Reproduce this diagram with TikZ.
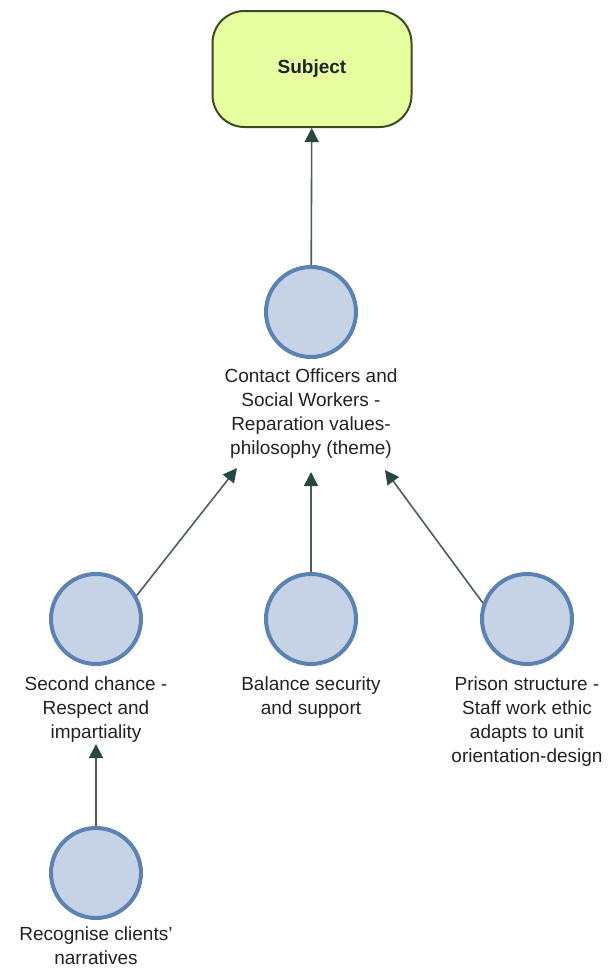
\documentclass[tikz,border=0pt]{standalone}
\usepackage{fontspec}
\setmainfont{Liberation Sans}
\usetikzlibrary{arrows.meta}
\definecolor{subjfill}{RGB}{230,255,160}
\definecolor{subjdraw}{RGB}{60,75,30}
\definecolor{dotfill}{RGB}{198,211,230}
\definecolor{dotdraw}{RGB}{92,130,178}
\definecolor{linkcol}{RGB}{80,92,92}
\definecolor{headcol}{RGB}{40,70,66}
\definecolor{txt}{RGB}{34,34,34}

\begin{document}
\begin{tikzpicture}[x=1pt,y=-1pt,
  subjectbox/.style={draw=subjdraw, line width=2pt, fill=subjfill, rounded corners=32pt,
    minimum width=199pt, minimum height=116pt, inner sep=0pt,
    font=\fontsize{19}{24}\selectfont\bfseries, text=txt},
  dot/.style={circle, draw=dotdraw, line width=4pt, fill=dotfill,
    minimum size=90pt, inner sep=0pt, outer sep=2pt},
  lbl/.style={anchor=north, align=center, inner sep=0pt, text=txt,
    font=\fontsize{19}{24}\selectfont},
  link/.style={draw=linkcol, line width=1.6pt,
    -{Triangle[length=14pt,width=14pt,color=headcol]}}
]
\useasboundingbox (0,0) rectangle (611,969);

% top node
\node[subjectbox] (subj) at (312,69) {Subject};

% theme
\node[dot] (c0) at (311,312) {};
\node[lbl] (l0) at (311,369) {Contact Officers and\\Social Workers -\\Reparation values-\\philosophy (theme)};

% sub-themes
\node[dot] (c1) at (96,619) {};
\node[dot] (c2) at (311,619) {};
\node[dot] (c3) at (527,619) {};
\node[lbl] (l1) at (96,677) {Second chance -\\Respect and\\impartiality};
\node[lbl] (l2) at (311,677) {Balance security\\and support};
\node[lbl] (l3) at (527,677) {Prison structure -\\Staff work ethic\\adapts to unit\\orientation-design};

% lowest level
\node[dot] (c4) at (96,873) {};
\node[lbl] (l4) at (96,927) {Recognise clients'\\narratives};

% arrow ends under the labels
\coordinate (t1) at (237,468);
\coordinate (t2) at (311,472);
\coordinate (t3) at (385,470);
\coordinate (t4) at (96,744);

% connectors
\draw[link] (c0) -- (subj);
\draw[link] (c1.30) -- (t1);
\draw[link] (c2) -- (t2);
\draw[link] (c3.160) -- (t3);
\draw[link] (c4) -- (t4);
\end{tikzpicture}
\end{document}
